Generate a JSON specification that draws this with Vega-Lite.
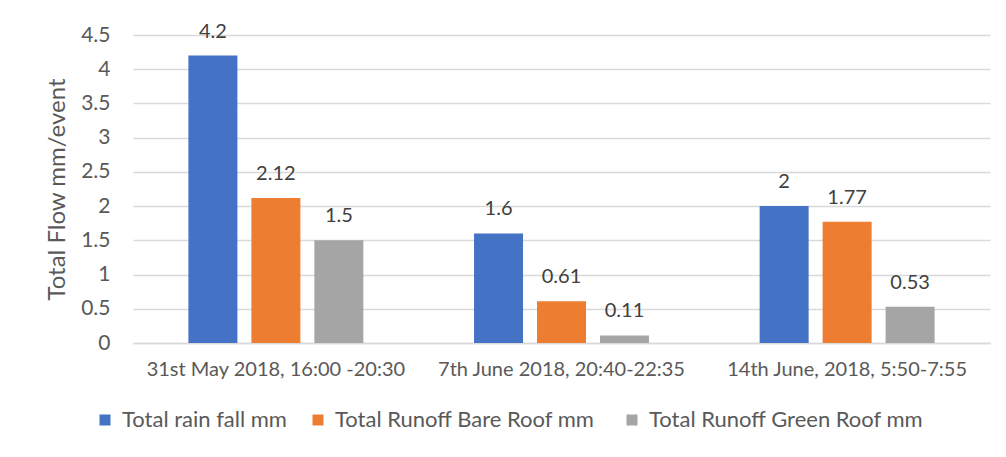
{
  "$schema": "https://vega.github.io/schema/vega-lite/v6.json",
  "width": 857,
  "height": 308,
  "autosize": "none",
  "padding": {"left": 133, "top": 35, "right": 16, "bottom": 114},
  "background": "white",
  "config": {
    "font": "Lato",
    "view": {"stroke": null},
    "axis": {"labelColor": "#595959", "titleColor": "#595959", "labelFont": "Lato", "titleFont": "Lato"}
  },
  "data": {
    "values": [
      {"event": "31st May  2018, 16:00 -20:30", "series": "Total rain fall mm", "value": 4.2},
      {"event": "31st May  2018, 16:00 -20:30", "series": "Total Runoff  Bare Roof mm", "value": 2.12},
      {"event": "31st May  2018, 16:00 -20:30", "series": "Total  Runoff  Green Roof mm", "value": 1.5},
      {"event": "7th June 2018, 20:40-22:35", "series": "Total rain fall mm", "value": 1.6},
      {"event": "7th June 2018, 20:40-22:35", "series": "Total Runoff  Bare Roof mm", "value": 0.61},
      {"event": "7th June 2018, 20:40-22:35", "series": "Total  Runoff  Green Roof mm", "value": 0.11},
      {"event": "14th June, 2018,    5:50-7:55", "series": "Total rain fall mm", "value": 2},
      {"event": "14th June, 2018,    5:50-7:55", "series": "Total Runoff  Bare Roof mm", "value": 1.77},
      {"event": "14th June, 2018,    5:50-7:55", "series": "Total  Runoff  Green Roof mm", "value": 0.53}
    ]
  },
  "encoding": {
    "x": {
      "field": "event", "type": "nominal", "sort": null,
      "scale": {"paddingInner": 0.3875, "paddingOuter": 0.194},
      "axis": {"title": null, "labelAngle": 0, "labelFontSize": 20, "labelPadding": 16, "labelLimit": 0, "ticks": false, "domainColor": "#d9d9d9", "domainWidth": 1.5, "grid": false}
    },
    "xOffset": {
      "field": "series", "type": "nominal", "sort": null,
      "scale": {"paddingInner": 0.222, "paddingOuter": 0}
    },
    "y": {
      "field": "value", "type": "quantitative",
      "scale": {"domain": [0, 4.5], "nice": false},
      "axis": {"title": "Total Flow mm/event", "titleFontSize": 24, "titleFontWeight": "normal", "titlePadding": 11, "labelFontSize": 21, "labelPadding": 23, "format": "~g", "values": [0, 0.5, 1, 1.5, 2, 2.5, 3, 3.5, 4, 4.5], "domain": false, "ticks": false, "gridColor": "#d9d9d9", "gridWidth": 1.5}
    }
  },
  "layer": [
    {
      "mark": {"type": "bar"},
      "encoding": {
        "color": {
          "field": "series", "type": "nominal", "sort": null,
          "scale": {"domain": ["Total rain fall mm", "Total Runoff  Bare Roof mm", "Total  Runoff  Green Roof mm"], "range": ["#4472C4", "#ED7D31", "#A5A5A5"]},
          "legend": {"title": null, "orient": "none", "direction": "horizontal", "legendX": -39, "legendY": 374, "symbolType": "square", "symbolSize": 121, "symbolStrokeWidth": 0, "labelFontSize": 22, "labelColor": "#595959", "labelFont": "Lato", "labelLimit": 0, "columnPadding": 20, "labelOffset": 6}
        }
      }
    },
    {
      "mark": {"type": "text", "baseline": "alphabetic", "dy": -18, "fontSize": 20, "color": "#404040", "font": "Lato"},
      "encoding": {"text": {"field": "value", "type": "quantitative"}}
    }
  ]
}
